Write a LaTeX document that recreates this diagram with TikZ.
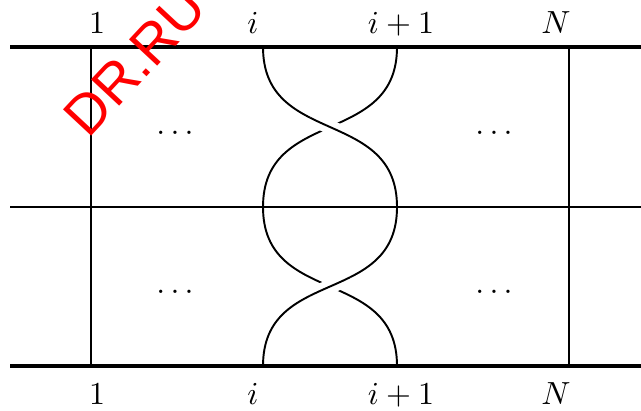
\documentclass[tikz,border=0pt]{standalone}
\usepackage{fontspec}
\newfontfamily\wmfont{Liberation Sans}
\begin{document}
\begin{tikzpicture}[x=0.3125pt,y=-0.3125pt,
  heavy/.style={line width=1pt},
  light/.style={line width=0.6pt},
  strand/.style={line width=0.6pt},
  lbl/.style={anchor=base,inner sep=0pt},
  dotsnode/.style={inner sep=0pt},
  gapband/.style={white,line width=4.5pt}]
\useasboundingbox (0,0) rectangle (641,410);
% key points
\coordinate (TL) at (10,47);   \coordinate (TR) at (641,47);
\coordinate (ML) at (10,207);  \coordinate (MR) at (641,207);
\coordinate (BL) at (10,366);  \coordinate (BR) at (641,366);
\coordinate (v1t) at (91,47);  \coordinate (v1b) at (91,366);
\coordinate (vNt) at (569,47); \coordinate (vNb) at (569,366);
\coordinate (a0) at (263,47);  \coordinate (b0) at (397,47);
\coordinate (a1) at (263,207); \coordinate (b1) at (397,207);
\coordinate (a2) at (263,366); \coordinate (b2) at (397,366);
\coordinate (c1) at (330,127); \coordinate (c2) at (330,286.5);
% under strands
\draw[strand] (b0) .. controls +(0,100) and +(0,-100) .. (a1);
\draw[strand] (a1) .. controls +(0,100) and +(0,-100) .. (b2);
% over strands
\draw[strand] (a0) .. controls +(0,100) and +(0,-100) .. (b1);
\draw[strand] (b1) .. controls +(0,100) and +(0,-100) .. (a2);
\begin{scope}
  \clip (c1) circle (22);
  \draw[gapband] (a0) .. controls +(0,100) and +(0,-100) .. (b1);
  \draw[strand] (a0) .. controls +(0,100) and +(0,-100) .. (b1);
\end{scope}
\begin{scope}
  \clip (c2) circle (22);
  \draw[gapband] (b1) .. controls +(0,100) and +(0,-100) .. (a2);
  \draw[strand] (b1) .. controls +(0,100) and +(0,-100) .. (a2);
\end{scope}
% frame lines
\draw[heavy] (TL) -- (TR);
\draw[light] (ML) -- (MR);
\draw[heavy] (BL) -- (BR);
\draw[light] (v1t) -- (v1b);
\draw[light] (vNt) -- (vNb);
% labels
\node[lbl] (t1) at (97,33) {$1$};
\node[lbl] (ti) at (253,33) {$i$};
\node[lbl] (tip) at (401,33) {$i+1$};
\node[lbl] (tN) at (556,33) {$N$};
\node[lbl] (b1l) at (97,404) {$1$};
\node[lbl] (bi) at (253,404) {$i$};
\node[lbl] (bip) at (401,404) {$i+1$};
\node[lbl] (bN) at (556,404) {$N$};
% dots
\node[dotsnode] (d1) at (175,133) {$\ldots$};
\node[dotsnode] (d2) at (494,133) {$\ldots$};
\node[dotsnode] (d3) at (175,292) {$\ldots$};
\node[dotsnode] (d4) at (494,292) {$\ldots$};
% watermark
\node[rotate=47, anchor=base west, text=red, inner sep=0pt,
  font=\wmfont\fontsize{17.5}{17.5}\selectfont] (wm) at (88,140) {DR.RU};
\end{tikzpicture}
\end{document}
